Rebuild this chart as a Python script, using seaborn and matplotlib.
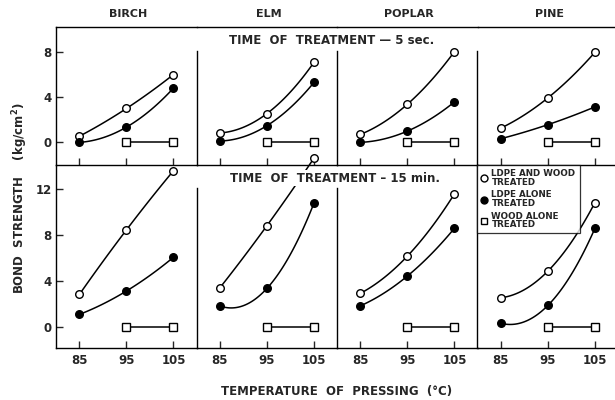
import numpy as np
import pandas as pd
import seaborn as sns
import matplotlib.pyplot as plt
from matplotlib.lines import Line2D

sns.set_style("ticks")
plt.rcParams['font.family'] = ['DejaVu Sans']
plt.rcParams['font.weight'] = 'bold'

woods = ["BIRCH", "ELM", "POPLAR", "PINE"]
temps = [85, 95, 105]
sq_temps = [95, 105]

# 5 sec treatment (kg/cm2)
ldpe_wood_5s = [[0.55, 3.0, 6.0], [0.83, 2.55, 7.08], [0.71, 3.38, 8.03], [1.27, 3.94, 7.97]]
ldpe_alone_5s = [[0.0, 1.35, 4.8], [0.12, 1.48, 5.3], [0.0, 1.0, 3.58], [0.33, 1.57, 3.14]]
# 15 min treatment
ldpe_wood_15m = [[2.83, 8.45, 13.6], [3.41, 8.82, 14.7], [2.92, 6.17, 11.59], [2.53, 4.86, 10.83]]
ldpe_alone_15m = [[1.08, 3.12, 6.06], [1.81, 3.35, 10.78], [1.83, 4.43, 8.59], [0.3, 1.87, 8.59]]
wood_alone = [0.0, 0.0]

rows = [(ldpe_wood_5s, ldpe_alone_5s), (ldpe_wood_15m, ldpe_alone_15m)]
ylims = [(-2.0, 10.2), (-1.85, 14.1)]
yticks = [[0, 4, 8], [0, 4, 8, 12]]
sep_top = [8.1, 12.1]

fig = plt.figure(figsize=(6.15, 4.0), dpi=100)
fig.patch.set_facecolor("white")
gs = fig.add_gridspec(2, 4, left=56/615, right=618/615, top=1-27/400, bottom=1-348/400,
                      height_ratios=[138, 183], wspace=0, hspace=0)

lw = 1.0
for r in range(2):
    open_vals, fill_vals = rows[r]
    for c in range(4):
        ax = fig.add_subplot(gs[r, c])
        ax.patch.set_visible(False)
        ax.set_xlim(80.0, 109.9)
        ax.set_ylim(*ylims[r])
        for s in ax.spines.values():
            s.set_linewidth(lw)
            s.set_color("black")
        ax.spines['right'].set_visible(False)
        if r == 1:
            ax.spines['top'].set_visible(False)
        if c > 0:
            if not (r == 1 and c == 3):
                ax.spines['left'].set_bounds(ylims[r][0], sep_top[r])
            ax.set_yticks([])
        else:
            ax.set_yticks(yticks[r])
            ax.set_yticklabels([str(v) for v in yticks[r]])
        ax.set_xticks(temps)
        if r == 1:
            ax.set_xticklabels([str(t) for t in temps])
        else:
            ax.set_xticklabels([])
        ax.tick_params(direction="in", length=5, width=lw, labelsize=8.5, pad=4)
        ax.tick_params(axis="y", pad=3)

        clip = not (r == 1 and c == 1)
        for vals, face in [(open_vals[c], "white"), (fill_vals[c], "black")]:
            sns.regplot(x=temps, y=vals, order=2, ci=None, scatter=False, ax=ax,
                        line_kws=dict(color="black", lw=1.1))
            ax.lines[-1].set_clip_on(clip)
            sns.scatterplot(x=temps, y=vals, ax=ax, marker="o", s=30, color=face,
                            edgecolor="black", linewidth=1.0, zorder=4, clip_on=clip)
        sns.lineplot(x=sq_temps, y=wood_alone, ax=ax, color="black", lw=1.1,
                     marker="s", markersize=5.5, markerfacecolor="white",
                     markeredgecolor="black", markeredgewidth=1.0, zorder=4)
        ax.set_xlabel("")
        ax.set_ylabel("")

        if r == 0:
            fig.text((56 + 140.5 * c + 72) / 615, 1 - 14/400, woods[c], ha="center",
                     va="center", fontsize=8)
        if r == 1 and c == 3:
            handles = [
                Line2D([], [], ls="none", marker="o", markersize=5, markerfacecolor="white", markeredgecolor="black"),
                Line2D([], [], ls="none", marker="o", markersize=5, markerfacecolor="black", markeredgecolor="black"),
                Line2D([], [], ls="none", marker="s", markersize=5, markerfacecolor="white", markeredgecolor="black"),
            ]
            labels = ["LDPE AND WOOD\nTREATED", "LDPE ALONE\nTREATED", "WOOD ALONE\nTREATED"]
            leg = ax.legend(handles, labels, loc="upper left", bbox_to_anchor=(0, 1),
                            borderaxespad=0, fancybox=False, edgecolor="black",
                            prop=dict(size=6.3, weight="bold"), handlelength=0.7,
                            handletextpad=0.45, labelspacing=0.42, borderpad=0.45)
            leg.get_frame().set_linewidth(0.9)
            for t in leg.get_texts():
                t.set_linespacing(0.95)

fig.text(332/615, 1 - 40/400, "TIME  OF  TREATMENT \u2014 5 sec.", ha="center", va="center",
         fontsize=8.5, bbox=dict(facecolor="white", edgecolor="none", pad=1))
fig.text(335/615, 1 - 178/400, "TIME  OF  TREATMENT \u2013 15 min.", ha="center", va="center",
         fontsize=8.5, bbox=dict(facecolor="white", edgecolor="none", pad=1), zorder=5)
fig.text(20/615, 1 - 198/400, "BOND  STRENGTH    (kg/cm$^\\mathbf{2}$)", rotation=90, ha="center",
         va="center", fontsize=8.5)
fig.text(337/615, 1 - 391/400, "TEMPERATURE  OF  PRESSING  (\u00b0C)", ha="center", va="center",
         fontsize=8.5)

fig.savefig("out.png", dpi=100)
